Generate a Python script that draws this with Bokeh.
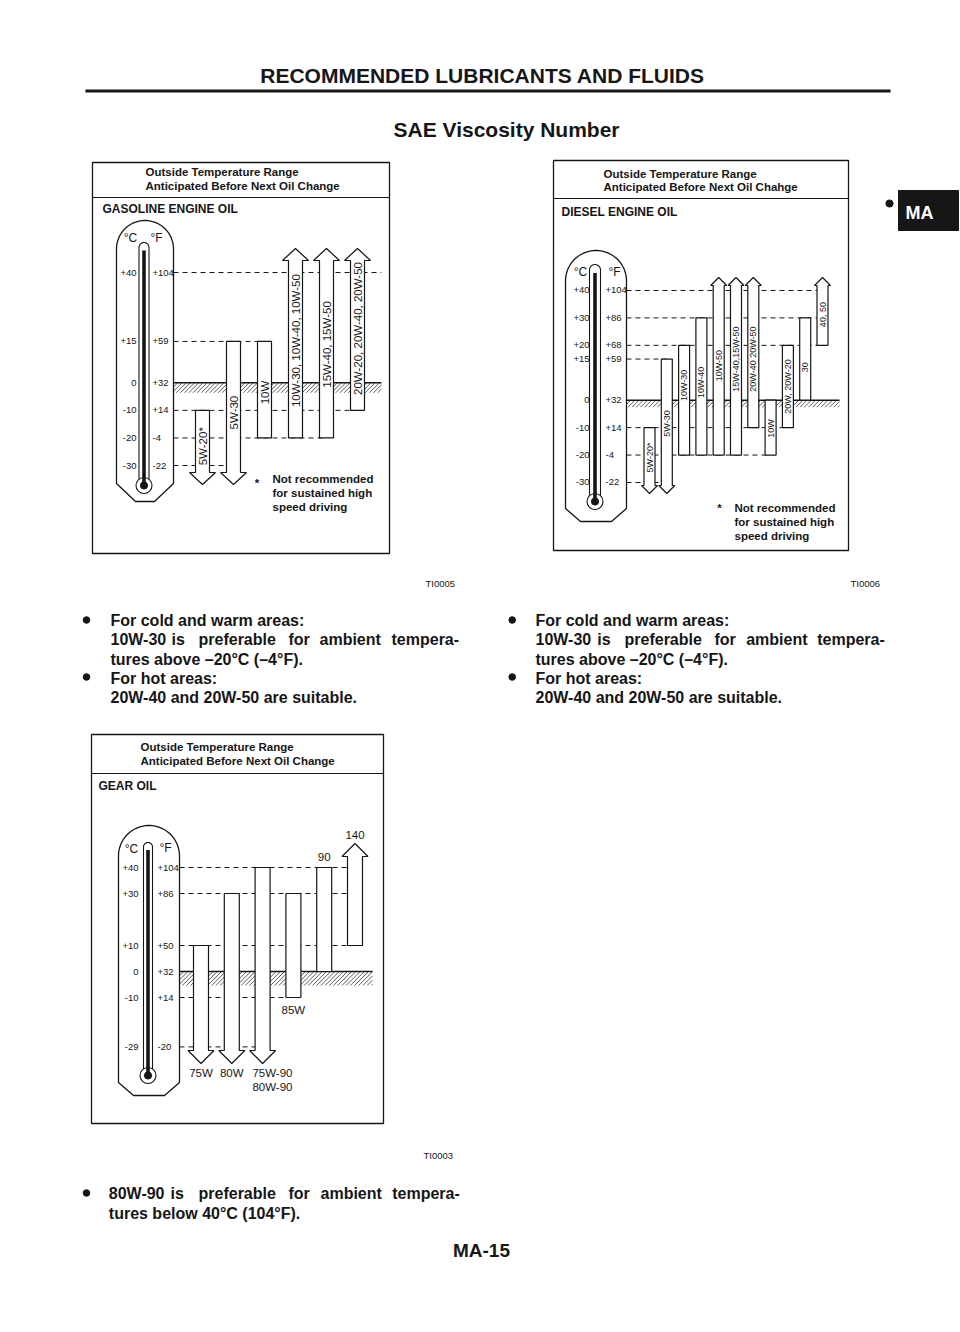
import numpy as np
from bokeh.plotting import figure
from bokeh.models import Range1d
from bokeh.core.properties import value
from bokeh.embed import file_html
from bokeh.resources import INLINE

# ================= data read from the page =================
# temperatures in deg C; None = arrow (range continues past the scale)
gas_grades = ["5W-20*", "5W-30", "10W", "10W-30, 10W-40, 10W-50",
              "15W-40, 15W-50", "20W-20, 20W-40, 20W-50"]
gas_low = [None, None, -20, -20, -20, -10]
gas_high = [-10, 15, 15, None, None, None]
gas_ticks = [40, 15, 0, -10, -20, -30]
gas_ticks_c = ["+40", "+15", "0", "-10", "-20", "-30"]
gas_ticks_f = ["+104", "+59", "+32", "+14", "-4", "-22"]

dsl_grades = ["5W-20*", "5W-30", "10W-30", "10W-40", "10W-50", "15W-40,15W-50",
              "20W-40 20W-50", "10W", "20W, 20W-20", "30", "40, 50"]
dsl_low = [None, None, -20, -20, -20, -20, -10, -20, -10, 0, 20]
dsl_high = [-10, 15, 20, 30, None, None, None, 0, 20, 30, None]
dsl_ticks = [40, 30, 20, 15, 0, -10, -20, -30]
dsl_ticks_c = ["+40", "+30", "+20", "+15", "0", "-10", "-20", "-30"]
dsl_ticks_f = ["+104", "+86", "+68", "+59", "+32", "+14", "-4", "-22"]

gear_grades = ["75W", "80W", "75W-90, 80W-90", "85W", "90", "140"]
gear_low = [None, None, None, -10, 0, 10]
gear_high = [10, 30, 40, 30, 40, None]
gear_ticks = [40, 30, 10, 0, -10, -29]
gear_ticks_c = ["+40", "+30", "+10", "0", "-10", "-29"]
gear_ticks_f = ["+104", "+86", "+50", "+32", "+14", "-20"]

# ================= page / figure =================
W, H = 960, 1330
XL, XRt = 0, W
YT, YB = 0, H
FONT = value("Liberation Sans")
INK = "#161616"
BASE_FIX = 0.28   # renderer draws alphabetic baselines a little low

p = figure(width=W, height=H, x_range=Range1d(XL, XRt), y_range=Range1d(YB, YT),
           output_backend="svg", toolbar_location=None,
           x_axis_type=None, y_axis_type=None, min_border=0,
           outline_line_color=None, background_fill_color="white",
           border_fill_color="white")


def txt(xs, ys, texts, size, bold=False, align="left", baseline="alphabetic",
        angle=0.0, color=INK, up_per_px=-1.0, **kw):
    if not isinstance(xs, (list, tuple)):
        xs, ys, texts = [xs], [ys], [texts]
    ys = list(ys)
    if baseline == "alphabetic":
        ys = [y - up_per_px * BASE_FIX * size * -1 if False else y + up_per_px * BASE_FIX * size
              for y in ys]
    p.text(x=list(xs), y=ys, text=list(texts), text_font=FONT,
           text_font_size=f"{size}px", text_font_style="bold" if bold else "normal",
           text_align=align, text_baseline=baseline, angle=angle,
           text_color=color, **kw)


def dot(x, y, r=3.3):
    p.circle([x], [y], radius=r, fill_color=INK, line_color=INK)


def box(l, r, t, b, sep):
    p.quad(left=[l], right=[r], top=[t], bottom=[b], fill_color=None,
           line_color=INK, line_width=1.3)
    p.segment(x0=[l], y0=[sep], x1=[r], y1=[sep], line_color=INK, line_width=1.2)


def thermometer(left, right, top, side_bottom, bottom, flat_half,
                tube_l, tube_r, tube_top, bulb_x, bulb_y, bulb_r=8.0):
    cx = (left + right) / 2.0
    R = (right - left) / 2.0
    cy = top + R
    th = np.linspace(np.pi, 0, 48)
    ox = [left] + list(cx + R * np.cos(th)) + [right, cx + flat_half, cx - flat_half]
    oy = [side_bottom] + list(cy - R * np.sin(th)) + [side_bottom, bottom, bottom]
    p.patch(ox, oy, fill_color="white", line_color=INK, line_width=1.3)
    tc = (tube_l + tube_r) / 2.0
    rt = (tube_r - tube_l) / 2.0
    tcy = tube_top + rt
    tb = bulb_y - np.sqrt(max(bulb_r ** 2 - rt ** 2, 0.0))
    th2 = np.linspace(np.pi, 0, 20)
    tx = [tube_l] + list(tc + rt * np.cos(th2)) + [tube_r]
    ty = [tb] + list(tcy - rt * np.sin(th2)) + [tb]
    p.line(tx, ty, line_color=INK, line_width=1.1)
    p.circle([bulb_x], [bulb_y], radius=bulb_r, fill_color="white",
             line_color=INK, line_width=1.1)
    p.line([tc, tc], [tcy + 3, bulb_y], line_color=INK, line_width=3.6)
    p.circle([bulb_x], [bulb_y], radius=3.6, fill_color=INK, line_color=INK)


def chart(L, low, high, ticks, tick_c, tick_f, grades=None):
    xr, yr = L["key"] + "_x", L["key"] + "_y"
    s, k, x0, y0 = L["s"], L["k"], L["x0"], L["y0"]
    p.extra_x_ranges[xr] = Range1d((XL - x0) / s, (XRt - x0) / s)
    p.extra_y_ranges[yr] = Range1d((y0 - YB) / k, (y0 - YT) / k)
    T = lambda py: (y0 - py) / k
    I = lambda px: (px - x0) / s
    # tick labels inside the thermometer
    txt([L["c_right"]] * len(ticks), list(ticks), tick_c, L["tick_size"],
        align="right", baseline="middle", y_range_name=yr)
    txt([L["f_left"]] * len(ticks), list(ticks), tick_f, L["tick_size"],
        align="left", baseline="middle", y_range_name=yr)
    # dashed guide lines
    start = I(L["therm_right"])
    dt = [t for t in ticks if t in L["dash_to"]]
    p.segment(x0=[start] * len(dt), y0=dt, x1=[L["dash_to"][t] for t in dt], y1=dt,
              x_range_name=xr, y_range_name=yr, line_color=INK,
              line_width=1.0, line_dash="5 4")
    # hatched freezing band under 0 deg C
    hx_end = I(L["hatch_to"])
    depth = L["hatch_px"]
    dx = depth / s
    hT = depth / k
    step = 4.2 / s
    sx0, sy0, sx1, sy1 = [], [], [], []
    b = start - dx
    while b < hx_end:
        tmin = max(0.0, (start - b) / dx)
        tmax = min(1.0, (hx_end - b) / dx)
        if tmin < tmax:
            sx0.append(b + tmin * dx); sy0.append(-hT + tmin * hT)
            sx1.append(b + tmax * dx); sy1.append(-hT + tmax * hT)
        b += step
    p.segment(x0=sx0, y0=sy0, x1=sx1, y1=sy1, x_range_name=xr, y_range_name=yr,
              line_color=INK, line_width=0.7)
    p.segment(x0=[start], y0=[0], x1=[hx_end], y1=[0], x_range_name=xr,
              y_range_name=yr, line_color=INK, line_width=1.5)
    # bars / arrows
    w = L["bar_w"] / s / 2.0
    hw = L["head_hw"] / s
    ub, ut = T(L["up_base"]), T(L["up_tip"])
    db, dtp = T(L["dn_base"]), T(L["dn_tip"])
    xs, ys = [], []
    for i, (lo, hi) in enumerate(zip(low, high)):
        xl, xrr = i - w, i + w
        if lo is None:
            bx = [xl, i - hw, i, i + hw, xrr]
            by = [db, db, dtp, db, db]
        else:
            bx, by = [xl, xrr], [lo, lo]
        if hi is None:
            tx = [xrr, i + hw, i, i - hw, xl]
            ty = [ub, ub, ut, ub, ub]
        else:
            tx, ty = [xrr, xl], [hi, hi]
        xs.append(bx + tx)
        ys.append(by + ty)
    p.patches(xs, ys, x_range_name=xr, y_range_name=yr, fill_color="white",
              line_color=INK, line_width=1.2)
    if grades is not None:
        txt(list(range(len(grades))), L["label_T"], grades, L["label_size"],
            align="center", baseline="middle", angle=np.pi / 2,
            x_range_name=xr, y_range_name=yr)
    return xr, yr, T, I


# ================= page header =================
txt(482, 81, "RECOMMENDED LUBRICANTS AND FLUIDS", 21, bold=True, align="center")
p.segment(x0=[85], y0=[90.5], x1=[890], y1=[90.5], line_color=INK, line_width=3)
txt(506, 135, "SAE Viscosity Number", 21, bold=True, align="center")

# side tab
p.quad(left=[898], right=[958], top=[190], bottom=[230], fill_color=INK, line_color=INK)
txt(905, 218, "MA", 18, bold=True, color="white")
dot(889, 203, 3.6)

# ================= gasoline engine oil =================
box(92, 389, 162, 553, 197)
txt(145, 174.5, "Outside Temperature Range", 11.5, bold=True)
txt(145, 189, "Anticipated Before Next Oil Change", 11.5, bold=True)
txt(102, 212, "GASOLINE ENGINE OIL", 12, bold=True)
thermometer(116, 173, 220, 483, 501, 9.5, 138.5, 148.5, 242, 143.5, 485)
txt(130, 241, "\u00b0C", 12, align="center")
txt(156, 241, "\u00b0F", 12, align="center")
GAS = dict(key="gas", x0=202, s=31, y0=382.3, k=2.757, bar_w=14, head_hw=13,
           up_base=260, up_tip=248, dn_base=472, dn_tip=484,
           therm_right=173, c_right=136, f_left=152, tick_size=9.5,
           hatch_to=381, hatch_px=10,
           dash_to={40: 5.77, 15: 2, -10: 5, -20: 4, -30: 1},
           label_T=[-23, -10.8, -3.5, 15.3, 13.9, 19.7], label_size=11.5)
chart(GAS, gas_low, gas_high, gas_ticks, gas_ticks_c, gas_ticks_f, gas_grades)
txt(256.5, 486, "*", 11.5, bold=True, align="center")
txt([272, 272, 272], [482, 496, 510],
    ["Not recommended", "for sustained high", "speed driving"], 11.5, bold=True)
txt(425, 586, "TI0005", 9.5)

# ================= diesel engine oil =================
box(553, 848, 160, 550, 198)
txt(603, 176.5, "Outside Temperature Range", 11.5, bold=True)
txt(603, 190, "Anticipated Before Next Oil Chahge", 11.5, bold=True)
txt(561, 215, "DIESEL ENGINE OIL", 12, bold=True)
thermometer(565, 626, 250, 508, 521, 15.5, 589, 600, 264, 594.5, 501)
txt(580, 275, "\u00b0C", 12, align="center")
txt(614, 275, "\u00b0F", 12, align="center")
DSL = dict(key="dsl", x0=649, s=17.3, y0=399.7, k=2.743, bar_w=11, head_hw=8,
           up_base=285, up_tip=277, dn_base=485, dn_tip=493,
           therm_right=626, c_right=589, f_left=605, tick_size=9.5,
           hatch_to=839, hatch_px=7,
           dash_to={40: 10, 30: 10, 20: 10, 15: 1, -10: 8, -20: 7, -30: 1},
           label_T=[-20.9, -8.5, 5.4, 6.5, 12.6, 15, 15, -10.3, 5, 12, 31.2],
           label_size=9)
chart(DSL, dsl_low, dsl_high, dsl_ticks, dsl_ticks_c, dsl_ticks_f, dsl_grades)
txt(719, 511, "*", 11.5, bold=True, align="center")
txt([734, 734, 734], [510.7, 524.5, 538.5],
    ["Not recommended", "for sustained high", "speed driving"], 11.5, bold=True)
txt(850, 586, "TI0006", 9.5)

# ================= bullet texts under the engine oil charts =================
for bx, tx, words_x in [(86, 110, [110, 171, 198, 288, 319, 391]),
                        (511.7, 535, [535, 596.7, 624, 714, 745.7, 816.7])]:
    dot(bx, 619.5)
    dot(bx, 676.5)
    txt(tx, 624, "For cold and warm areas:", 16, bold=True)
    txt(words_x, [643] * 6,
        ["10W-30", "is", "preferable", "for", "ambient", "tempera-"], 16, bold=True)
    txt(tx, 663, "tures above \u201320\u00b0C (\u20134\u00b0F).", 16, bold=True)
    txt(tx, 682, "For hot areas:", 16, bold=True)
    txt(tx, 701, "20W-40 and 20W-50 are suitable.", 16, bold=True)

# ================= gear oil =================
box(91, 383, 734, 1123, 773)
txt(140, 749.5, "Outside Temperature Range", 11.5, bold=True)
txt(140, 763.5, "Anticipated Before Next Oil Change", 11.5, bold=True)
txt(98, 788.5, "GEAR OIL", 12, bold=True)
thermometer(118, 179, 825, 1082, 1095, 15.5, 143, 152, 842, 147.5, 1075)
txt(131, 851.5, "\u00b0C", 12, align="center")
txt(165, 850.5, "\u00b0F", 12, align="center")
GEAR = dict(key="gear", x0=200.5, s=30.8, y0=971, k=2.6, bar_w=15, head_hw=13,
            up_base=856, up_tip=843, dn_base=1050, dn_tip=1063,
            therm_right=179, c_right=138, f_left=157, tick_size=9.5,
            hatch_to=372, hatch_px=14,
            dash_to={40: 5, 30: 5, 10: 5, -10: 3, -29: 2})
gxr, gyr, gT, gI = chart(GEAR, gear_low, gear_high, gear_ticks, gear_ticks_c, gear_ticks_f)

# gear labels placed at the ends of their bars
gear_label_side = ["below", "below", "below", "below", "above", "above"]
gear_label_gap_px = [12.7, 12.7, 12.7, 16, 7, 5]
gl_x, gl_y, gl_t, gl_a = [], [], [], []
for i, (name, lo, hi, side, gap) in enumerate(zip(gear_grades, gear_low, gear_high,
                                                   gear_label_side, gear_label_gap_px)):
    lines = name.split(", ")
    if side == "below":
        end = gT(GEAR["dn_tip"]) if lo is None else lo
        base = end - gap / GEAR["k"]
    else:
        end = gT(GEAR["up_tip"]) if hi is None else hi
        base = end + gap / GEAR["k"]
    align = "center" if len(lines) == 1 else "left"
    xpos = i if len(lines) == 1 else i - 0.33
    for j, ln in enumerate(lines):
        gl_x.append(xpos); gl_y.append(base - j * 14.3 / GEAR["k"])
        gl_t.append(ln); gl_a.append(align)
for a in ("center", "left"):
    sel = [n for n in range(len(gl_t)) if gl_a[n] == a]
    txt([gl_x[n] for n in sel], [gl_y[n] for n in sel], [gl_t[n] for n in sel], 11.5,
        align=a, up_per_px=1.0 / GEAR["k"], x_range_name=gxr, y_range_name=gyr)
txt(423, 1158, "TI0003", 9.5)

dot(86, 1192.5)
txt([108.3, 170, 198, 288, 320, 391.7], [1197] * 6,
    ["80W-90", "is", "preferable", "for", "ambient", "tempera-"], 16, bold=True)
txt(108.3, 1217, "tures below 40\u00b0C (104\u00b0F).", 16, bold=True)

# page number
txt(481, 1255, "MA-15", 19, bold=True, align="center")

open("out.html", "w").write(file_html(p, INLINE))
